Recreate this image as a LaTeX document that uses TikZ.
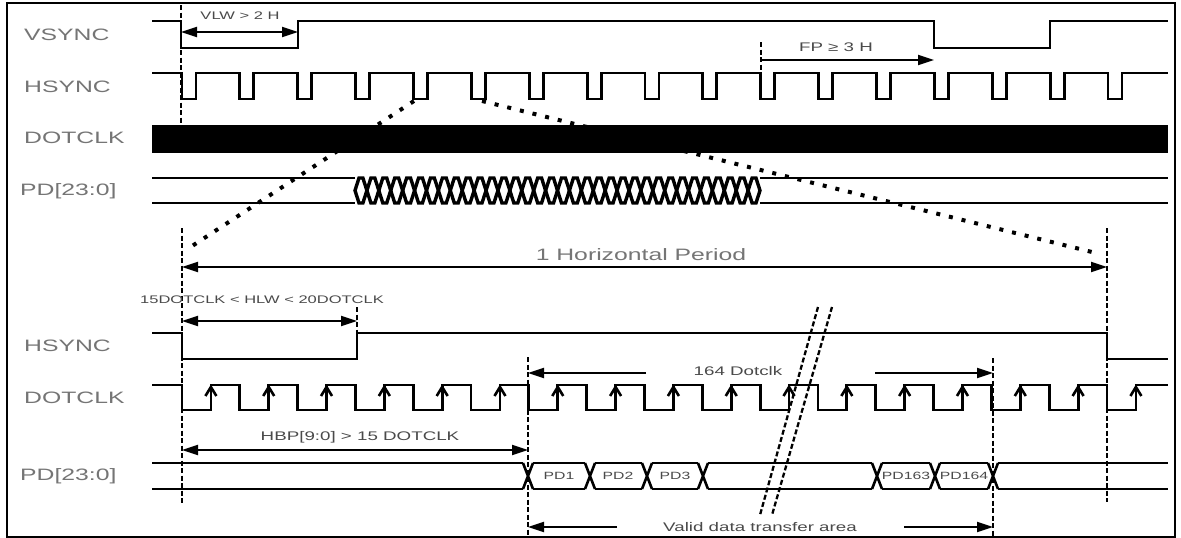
\documentclass[tikz,border=0pt]{standalone}
\usepackage{fontspec}
\newfontfamily\labfont[FakeStretch=1.5]{Liberation Sans}
\usetikzlibrary{arrows.meta}
\definecolor{biglab}{HTML}{757575}
\definecolor{smalllab}{HTML}{4A4A4A}
\begin{document}
\begin{tikzpicture}[x=1pt,y=-1pt,
  sig/.style={line width=2.8pt, line join=miter},
  bus/.style={line width=2.1pt},
  vdash/.style={line width=2.4pt, dash pattern=on 5pt off 2.5pt},
  dotline/.style={line width=4pt, dash pattern=on 4pt off 9pt},
  dimline/.style={line width=2.1pt},
  onetip/.style={-{Triangle[length=16pt,width=10pt]}},
  twotips/.style={{Triangle[length=16pt,width=10pt]}-{Triangle[length=16pt,width=10pt]}},
  biglabel/.style={font=\labfont\fontsize{16.5}{16.5}\selectfont, text=biglab, inner sep=0pt},
  smalllabel/.style={font=\labfont\fontsize{11}{11}\selectfont, text=smalllab, inner sep=0pt},
  midlabel/.style={font=\labfont\fontsize{12.5}{12.5}\selectfont, text=smalllab, inner sep=0pt},
  celllabel/.style={font=\labfont\fontsize{10.5}{10.5}\selectfont, text=smalllab, inner sep=0pt},
  clkup/.style={line width=2.6pt, line join=miter}
]
\useasboundingbox (0,0) rectangle (1181,538);
\fill[white] (0,0) rectangle (1181,538);
\draw[line width=2pt] (7,2.5) rectangle (1175,537);

% ---------------- labels (left) ----------------
\node[biglabel, anchor=west] (lvs) at (24,34.5) {VSYNC};
\node[biglabel, anchor=west] (lhs) at (24,86.5) {HSYNC};
\node[biglabel, anchor=west] (ldc) at (24,138) {DOTCLK};
\node[biglabel, anchor=west] (lpd) at (20,191.5) {PD[23:0]};
\node[biglabel, anchor=west] (lhs2) at (24,346) {HSYNC};
\node[biglabel, anchor=west] (ldc2) at (24,397.5) {DOTCLK};
\node[biglabel, anchor=west] (lpd2) at (20,476.5) {PD[23:0]};

% ---------------- top: VSYNC ----------------
\draw[sig] (152,21) -- (181,21) -- (181,48) -- (298,48) -- (298,21) -- (934,21) -- (934,48) -- (1050,48) -- (1050,21) -- (1168,21);

% ---------------- top: HSYNC ----------------
\draw[sig] (152,73)
  \foreach \k in {0,...,16}{ -- ({182+57.875*\k},73) -- ({182+57.875*\k},99) -- ({196+57.875*\k},99) -- ({196+57.875*\k},73) }
  -- (1168,73);

% ---------------- top: DOTCLK ----------------
\fill (152,125) rectangle (1168,153);

% ---------------- top: PD ----------------
\draw[bus] (152,178) -- (355,178) (152,203) -- (355,203);
\draw[bus] (760,178) -- (1168,178) (760,203) -- (1168,203);
\foreach \i in {0,...,33}{
  \pgfmathsetmacro{\xa}{355+11.9118*\i}
  \draw[line width=3.4pt] (\xa,190.5) -- (\xa+4,178) -- (\xa+7.9,178) -- (\xa+11.9118,190.5) -- (\xa+7.9,203) -- (\xa+4,203) -- cycle;
}

% ---------------- top markers ----------------
\coordinate (t0top) at (181,5);
\coordinate (t0bot) at (181,126);
\draw[vdash] (t0top) -- (t0bot);
\coordinate (vlwL) at (181,32);
\coordinate (vlwR) at (298,32);
\draw[dimline, twotips] (vlwL) -- (vlwR);
\node[smalllabel] (vlw) at (240,16) {VLW > 2 H};

\coordinate (fpT) at (761,42);
\coordinate (fpB) at (761,74);
\draw[vdash] (fpT) -- (fpB);
\coordinate (fpL) at (761,60);
\coordinate (fpR) at (934,60);
\draw[dimline, onetip] (fpL) -- (fpR);
\node[midlabel] (fp) at (836,47.5) {FP ≥ 3 H};

% ---------------- zoom dotted lines ----------------
\coordinate (zl1) at (414,101);
\coordinate (zl2) at (186,250);
\coordinate (zr1) at (482,101);
\coordinate (zr2) at (1100,254);
\draw[dotline] (zl1) -- (zl2);
\draw[dotline] (zr1) -- (zr2);

% ---------------- bottom verticals ----------------
\coordinate (b0t) at (182,228);
\coordinate (b0b) at (182,505);
\draw[vdash] (b0t) -- (b0b);
\coordinate (b1t) at (1107,228);
\coordinate (b1b) at (1107,502);
\draw[vdash] (b1t) -- (b1b);
\coordinate (b2t) at (528,357);
\coordinate (b2b) at (528,538);
\draw[vdash] (b2t) -- (b2b);
\coordinate (b3t) at (993,358);
\coordinate (b3b) at (993,538);
\draw[vdash] (b3t) -- (b3b);
\coordinate (hlwT) at (357,307);
\coordinate (hlwB) at (357,334);
\draw[vdash] (hlwT) -- (hlwB);

% 1 Horizontal period
\coordinate (hpL) at (182,267);
\coordinate (hpR) at (1107,267);
\draw[dimline, twotips] (hpL) -- (hpR);
\node[biglabel] (hp) at (641,255) {1 Horizontal Period};

% HLW
\coordinate (hlwL) at (182,321);
\coordinate (hlwR) at (357,321);
\draw[dimline, twotips] (hlwL) -- (hlwR);
\node[smalllabel] (hlw) at (262,299.5) {15DOTCLK < HLW < 20DOTCLK};

% ---------------- bottom: HSYNC ----------------
\draw[sig] (152,333) -- (182,333) -- (182,359) -- (357,359) -- (357,333) -- (1107,333) -- (1107,359) -- (1168,359);

% ---------------- bottom: DOTCLK ----------------
\draw[sig] (152,385) -- (182,385) -- (182,410)
  \foreach \k in {0,...,15}{ -- ({210.906+57.8125*\k},410) -- ({210.906+57.8125*\k},385) -- ({239.8125+57.8125*\k},385) -- ({239.8125+57.8125*\k},410) }
  -- (1135.9,410) -- (1135.9,385) -- (1168,385);
\foreach \k in {0,...,16}{
  \pgfmathsetmacro{\xr}{210.906+57.8125*\k}
  \draw[clkup] (\xr-5.5,396) -- (\xr,387) -- (\xr+5.5,396);
}

% 164 Dotclk
\coordinate (d164L) at (528,373);
\coordinate (d164La) at (646,373);
\coordinate (d164Ra) at (875,373);
\coordinate (d164R) at (993,373);
\draw[dimline, onetip] (d164La) -- (d164L);
\draw[dimline, onetip] (d164Ra) -- (d164R);
\node[midlabel] (d164) at (738,371.5) {164 Dotclk};

% HBP
\coordinate (hbpL) at (182,450);
\coordinate (hbpR) at (528,450);
\draw[dimline, twotips] (hbpL) -- (hbpR);
\node[midlabel] (hbp) at (360,437) {HBP[9:0] > 15 DOTCLK};

% ---------------- bottom: PD ----------------
\foreach \s/\e in {152/523, 533/585, 595/642, 652/698, 708/872, 882/930, 940/988, 998/1168}{
  \draw[bus] (\s,463) -- (\e,463) (\s,489) -- (\e,489);
}
\foreach \x in {528,590,647,703,877,935,993}{
  \draw[line width=2.6pt] (\x-5,463) -- (\x+5,489) (\x-5,489) -- (\x+5,463);
}
\node[celllabel] (pd1) at (559,476) {PD1};
\node[celllabel] (pd2) at (618,476) {PD2};
\node[celllabel] (pd3) at (675,476) {PD3};
\node[celllabel] (pd163) at (906,476) {PD163};
\node[celllabel] (pd164) at (964,476) {PD164};

% Valid data transfer area
\coordinate (vdL) at (528,527);
\coordinate (vdLa) at (617,527);
\coordinate (vdRa) at (904,527);
\coordinate (vdR) at (993,527);
\draw[dimline, onetip] (vdLa) -- (vdL);
\draw[dimline, onetip] (vdRa) -- (vdR);
\node[midlabel] (vd) at (760,527) {Valid data transfer area};

% break marks
\coordinate (brA1) at (818,307);
\coordinate (brA2) at (760,515);
\coordinate (brB1) at (832,307);
\coordinate (brB2) at (772,515);
\draw[line width=2.3pt, dash pattern=on 5pt off 2.5pt] (brA1) -- (brA2);
\draw[line width=2.3pt, dash pattern=on 5pt off 2.5pt] (brB1) -- (brB2);
\end{tikzpicture}
\end{document}
